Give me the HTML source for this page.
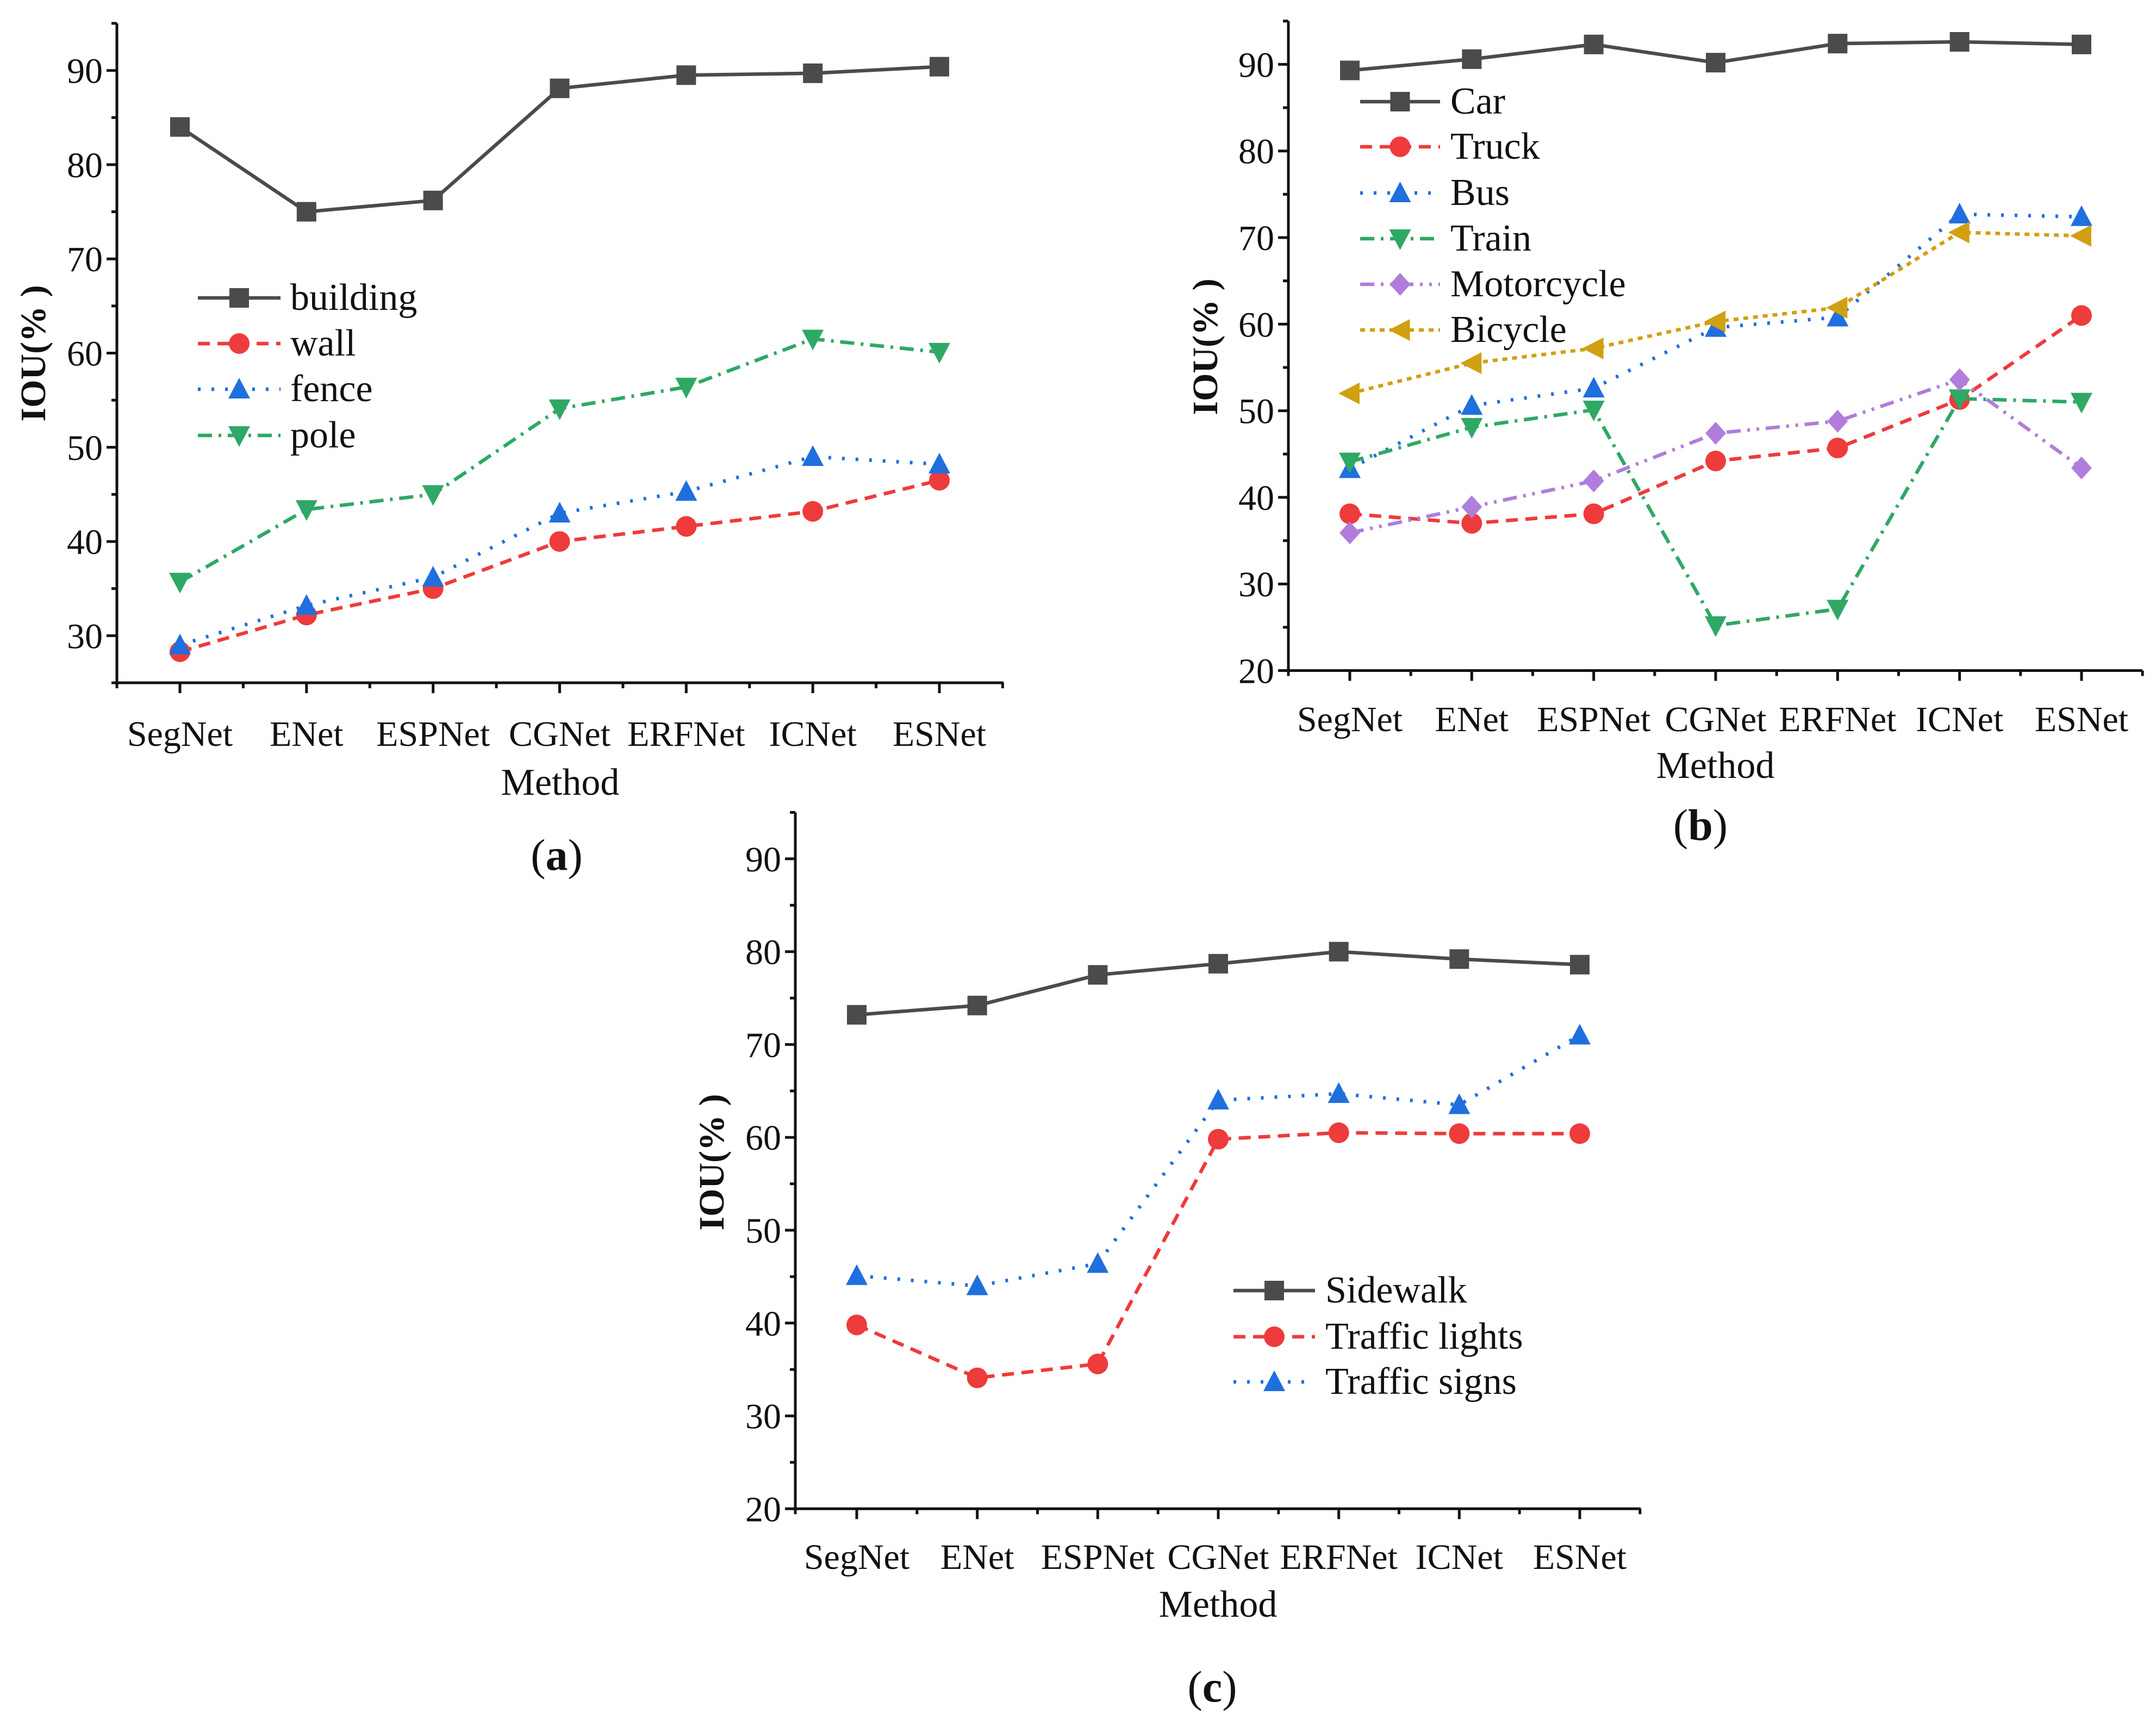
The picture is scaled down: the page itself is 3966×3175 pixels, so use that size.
<!DOCTYPE html>
<html><head><meta charset="utf-8">
<style>
html,body{margin:0;padding:0;background:#fff;}
svg, svg text{display:block;font-family:"Liberation Serif","Times New Roman",serif;}
</style></head>
<body>
<svg id="fig" width="3966" height="3175" viewBox="0 0 3966 3175" xmlns="http://www.w3.org/2000/svg" font-family="Liberation Serif, serif"></svg>
<script>
const categories = ["SegNet","ENet","ESPNet","CGNet","ERFNet","ICNet","ESNet"];
const yTicksA = [30,40,50,60,70,80,90];
const yTicksBC = [20,30,40,50,60,70,80,90];
// Panel (a)
const building = [84.0,75.0,76.2,88.1,89.5,89.7,90.4];
const wall = [28.3,32.2,35.0,40.0,41.6,43.2,46.5];
const fence = [29.0,33.2,36.2,43.0,45.3,49.0,48.2];
const pole = [35.7,43.4,45.0,54.1,56.4,61.5,60.1];
// Panel (b)
const car = [89.3,90.6,92.3,90.2,92.4,92.6,92.3];
const truck = [38.1,37.0,38.1,44.2,45.7,51.3,61.0];
const bus = [43.3,50.6,52.6,59.6,60.8,72.7,72.4];
const train = [44.1,48.1,50.1,25.2,27.1,51.4,51.0];
const motorcycle = [35.9,38.9,41.9,47.4,48.8,53.6,43.4];
const bicycle = [52.0,55.5,57.2,60.3,61.9,70.6,70.2];
// Panel (c)
const sidewalk = [73.2,74.2,77.5,78.7,80.0,79.2,78.6];
const trafficLights = [39.8,34.1,35.6,59.8,60.5,60.4,60.4];
const trafficSigns = [45.1,44.0,46.4,64.0,64.7,63.5,71.0];

const NS="http://www.w3.org/2000/svg";
const svg=document.getElementById('fig');
const FF="Liberation Serif, Times New Roman, serif";
function mk(tag,attrs,parent){const e=document.createElementNS(NS,tag);for(const k in attrs)e.setAttribute(k,attrs[k]);if(tag==='text'||tag==='g')e.setAttribute('font-family',FF);(parent||svg).appendChild(e);return e;}

const STY={
 gray:{c:"#4b4b4b",dash:"",m:"square"},
 red:{c:"#ee3b3b",dash:"22,14",m:"circle"},
 blue:{c:"#1f6fde",dash:"5,20",m:"up"},
 green:{c:"#2fa865",dash:"26,12,5,12",m:"down"},
 purple:{c:"#b07ddc",dash:"26,12,5,12,5,12",m:"diamond"},
 gold:{c:"#d1a012",dash:"9,9",m:"left"}
};
function marker(g,type,x,y,c){
 const s=18;
 if(type==="square")return mk('rect',{x:x-s,y:y-s,width:2*s,height:2*s,fill:c},g);
 if(type==="circle")return mk('circle',{cx:x,cy:y,r:s+1,fill:c},g);
 let p;
 if(type==="up")p=[[x,y-s-3],[x+s+2,y+s-1],[x-s-2,y+s-1]];
 if(type==="down")p=[[x,y+s+3],[x+s+2,y-s+1],[x-s-2,y-s+1]];
 if(type==="diamond")p=[[x,y-s-3],[x+s+1,y],[x,y+s+3],[x-s-1,y]];
 if(type==="left")p=[[x-s-3,y],[x+s,y-s-2],[x+s,y+s+2]];
 return mk('polygon',{points:p.map(q=>q.join(',')).join(' '),fill:c},g);
}

function panel(P){
 const g=mk('g',{});
 
 
 const step=(P.x1-P.x0)/(categories.length-1);
 const X=i=>P.x0+i*step;
 const Y=v=>P.y90+(90-v)*P.per10/10;
 const yBottom=Y(P.ymin), yTop=Y(95);
 const ax=mk('g',{stroke:"#111","stroke-width":5,fill:"none"},g);
 
 
 mk('line',{x1:P.ax,y1:yTop,x2:P.ax,y2:yBottom+2.5},ax);
 mk('line',{x1:P.ax-2.5,y1:yBottom,x2:P.xend,y2:yBottom},ax);
 for(let v=P.ymin;v<=95;v+=5){
  const major=v%10===0;
  mk('line',{x1:P.ax-(major?19:10),y1:Y(v),x2:P.ax,y2:Y(v)},ax);
 }
 mk('line',{x1:P.ax,y1:yBottom,x2:P.ax,y2:yBottom+10},ax);
 for(let i=0;i<categories.length;i++){
  mk('line',{x1:X(i),y1:yBottom,x2:X(i),y2:yBottom+19},ax);
  mk('line',{x1:X(i)+step/2,y1:yBottom,x2:X(i)+step/2,y2:yBottom+10},ax);
 }
 const tl=mk('g',{"font-size":66,fill:"#111","text-anchor":"end"},g);
 P.ticks.forEach(v=>{const t=mk('text',{x:P.ax-26,y:Y(v)+23},tl);t.textContent=v;
  });
 const cl=mk('g',{"font-size":66,fill:"#111","text-anchor":"middle"},g);
 categories.forEach((c,i)=>{const t=mk('text',{x:X(i),y:P.labY},cl);t.textContent=c;
  });
 const xt=mk('text',{x:(P.ax+P.xend)/2,y:P.methY,"font-size":70,"text-anchor":"middle",fill:"#111"},g);
 xt.textContent="Method";
 
 const yt=mk('text',{x:0,y:0,"font-size":66,"font-weight":"bold","text-anchor":"middle",fill:"#111",transform:`translate(${P.ytX+22},${P.ytY}) rotate(-90)`},g);
 yt.textContent="IOU(% )";
 
 const pl=mk('text',{x:P.pX,y:P.pY,"font-size":82,"text-anchor":"middle",fill:"#111"},g);
 pl.innerHTML='(<tspan font-weight="bold">'+P.letter+'</tspan>)';
 
 P.series.forEach(s=>{
  const st=STY[s.style];
  const sg=mk('g',{},g);
  
  
  mk('polyline',{points:s.data.map((v,i)=>X(i)+','+Y(v)).join(' '),fill:"none",stroke:st.c,"stroke-width":6.5,"stroke-dasharray":st.dash,"stroke-linecap":st.dash?"butt":"round"},sg);
  s.data.forEach((v,i)=>marker(sg,st.m,X(i),Y(v),st.c));
 });
 P.series.forEach((s,k)=>{
  const st=STY[s.style];
  const ly=P.legY[k];
  const lg=mk('g',{},g);
  
  
  mk('line',{x1:P.legX0,y1:ly,x2:P.legX1,y2:ly,stroke:st.c,"stroke-width":6.5,"stroke-dasharray":st.dash},lg);
  marker(lg,st.m,(P.legX0+P.legX1)/2,ly,st.c);
  const t=mk('text',{x:P.legTX,y:ly+22,"font-size":70,fill:"#111"},lg);
  t.textContent=s.label;
 });
}

panel({name:'chart-a',letter:'a',x0:331,x1:1728,ax:215,xend:1846,y90:129.6,per10:173.3,ymin:25,ticks:yTicksA,
 labY:1372,methY:1462,ytX:61,ytY:650,pX:1024,pY:1600,
 legX0:364,legX1:516,legTX:534,legY:[548,632,716,801],
 series:[{label:"building",data:building,style:"gray"},{label:"wall",data:wall,style:"red"},
  {label:"fence",data:fence,style:"blue"},{label:"pole",data:pole,style:"green"}]});
panel({name:'chart-b',letter:'b',x0:2483,x1:3829,ax:2370,xend:3941,y90:118.4,per10:159.3,ymin:20,ticks:yTicksBC,
 labY:1345,methY:1431,ytX:2217,ytY:638,pX:3128,pY:1545,
 legX0:2502,legX1:2649,legTX:2668,legY:[187,270,355,439,523,607],
 series:[{label:"Car",data:car,style:"gray"},{label:"Truck",data:truck,style:"red"},
  {label:"Bus",data:bus,style:"blue"},{label:"Train",data:train,style:"green"},
  {label:"Motorcycle",data:motorcycle,style:"purple"},{label:"Bicycle",data:bicycle,style:"gold"}]});
panel({name:'chart-c',letter:'c',x0:1576,x1:2906,ax:1463,xend:3018,y90:1579.8,per10:170.8,ymin:20,ticks:yTicksBC,
 labY:2886,methY:2974,ytX:1309,ytY:2138,pX:2230,pY:3130,
 legX0:2269,legX1:2419,legTX:2438,legY:[2374,2459,2542],
 series:[{label:"Sidewalk",data:sidewalk,style:"gray"},{label:"Traffic lights",data:trafficLights,style:"red"},
  {label:"Traffic signs",data:trafficSigns,style:"blue"}]});
</script>
</body></html>
